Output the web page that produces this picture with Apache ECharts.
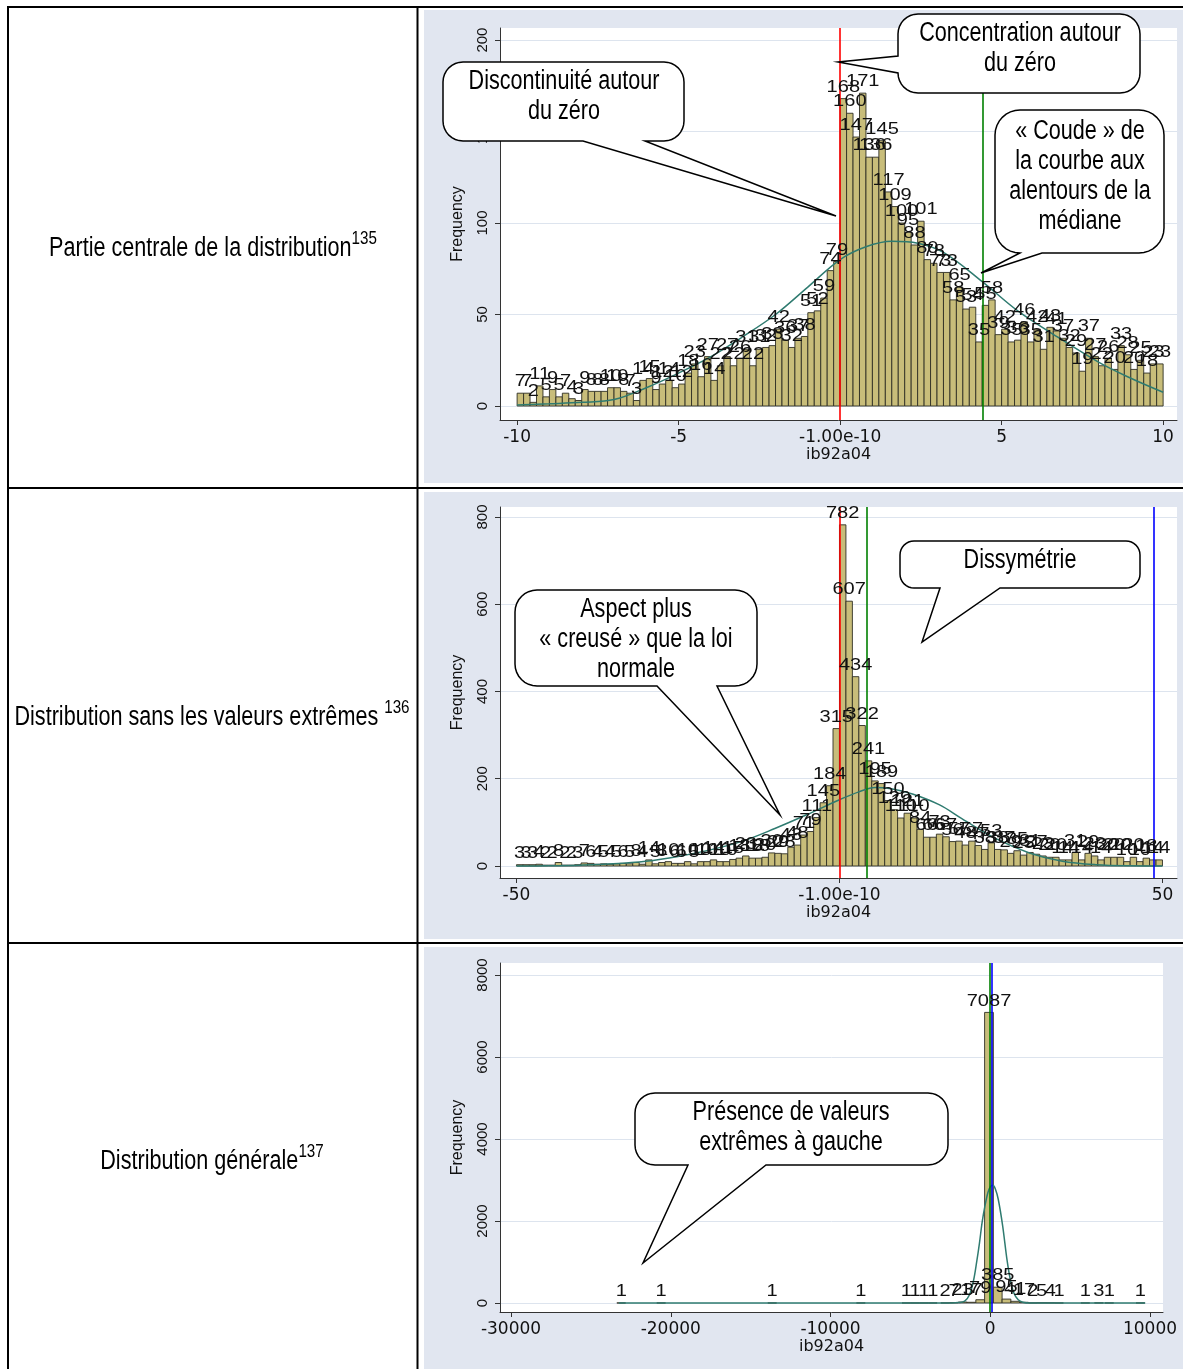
<!DOCTYPE html>
<html><head><meta charset="utf-8">
<script src="https://cdn.jsdelivr.net/npm/echarts@6/dist/echarts.min.js"></script>
<style>html,body{margin:0;padding:0;background:#fff}#c{width:1183px;height:1369px}</style>
</head><body><div id="c"></div>
<script>
// ---------------- DATA ----------------
// Panel 1 : partie centrale (bins of 0.2 from -10 to 10)
const p1BinStart = -10, p1BinWidth = 0.2;
const p1Counts = [7,7,2,11,5,9,5,7,4,3, 9,8,8,8,10,10,8,7,3,14, 15,9,12,14,10,12,18,23,16,27,
  14,22,27,22,26,31,22,31,32,33, 42,36,32,37,38,51,52,59,74,79,
  168,160,147,171,136,136,145,117,109,100, 95,88,101,80,78,73,73,58,65,53,
  54,35,55,58,39,42,35,36,46,35, 42,31,43,41,37,32,29,19,37,27, 22,26,20,33,28,20,25,18,23,23];
const p1CurveX = [-10,-9,-8,-7,-6,-5,-4,-3,-2,-1,0,0.8,1.6,2.4,3.2,4.4,5.5,6.8,8,8.9,10];
const p1CurveY = [0.5,1.2,2,3.5,10,18,27,38,50,65,80,87,90,89,84,68,52,37,24,16,7.5];
const p1VLines = [0, 4.43];
const p1XTicks = [-10,-5,0,5,10];
const p1YTicks = [0,50,100,150,200];

// Panel 2 : sans valeurs extrêmes (bins of 1 from -50 to 50)
const p2BinStart = -50, p2BinWidth = 1;
const p2Counts = [3,3,3,4,2,2,8,2,2,3, 7,6,4,5,4,5,6,5,8,4, 14,5,8,10,6,6,10,5,10,10,
  14,10,10,15,18,23,18,18,20,30, 29,28,43,48,71,79,111,145,184,315,
  782,607,434,322,241,195,189,150,129,110, 121,110,84,66,66,73,67,56,57,48,
  57,47,38,53,38,37,29,35,25,31, 27,23,20,20,14,14,31,14,29,23, 14,20,20,20,10,20,10,18,14,14];
const p2CurveX = [-50,-45,-40,-35,-30,-25,-20,-15,-10,-5,0,3,5.5,8,11.3,15.5,19,24.3,29.4,34.5,39.7,45,50];
const p2CurveY = [0,0.5,2,5,11,22,37,57,86,118,152,170,180,177,165,140,108,62,30,11,3,0.5,0.1];
const p2VLines = [0, 4.3, 48.6];
const p2XTicks = [-50,0,50];
const p2YTicks = [0,200,400,600,800];

// Panel 3 : distribution générale (non-empty bins, width ~548)
const p3BinWidth = 548;
const p3Centers = [-23100,-20600,-13650,-8100,-5250,-4700,-4150,-3600,-2820,-2272,-1724,-1176,-628,-80,468,1016,1564,2112,2660,3208,3756,4304,5950,6800,7450,9400];
const p3Counts  = [1,1,1,1,1,1,1,1,2,7,23,17,79,7087,385,95,41,17,2,5,4,1,1,3,1,1];
const p3CurveX = [-23250,-2400,-2000,-1600,-1300,-1040,-850,-680,-500,-340,-150,0,160,320,500,770,1050,1250,1470,1750,2040,2500,9700];
const p3CurveY = [0,0,10,45,200,560,1000,1450,1990,2350,2690,2830,2870,2780,2530,1900,1050,580,250,80,20,0,0];
const p3VLines = [90, 0];
const p3XTicks = [-30000,-20000,-10000,0,10000];
const p3YTicks = [0,2000,4000,6000,8000];

const zeroLabel = '-1.00e-10';
const xTitle = 'ib92a04', yTitle = 'Frequency';

// ---------------- STYLE ----------------
const BAR_FILL = '#c8bd7a', BAR_STROKE = '#2f2f24', CURVE = '#2f7b70';
const AX = '#333', TXT = '#111';
const DOC_FONT = '"Liberation Sans", Arial, sans-serif';

function binData(start, w, counts){ return counts.map((c,i)=>[start+i*w, start+(i+1)*w, c]); }
const p1Data = binData(p1BinStart, p1BinWidth, p1Counts);
const p2Data = binData(p2BinStart, p2BinWidth, p2Counts);
const p3Data = p3Centers.map((c,i)=>[c-p3BinWidth/2, c+p3BinWidth/2, p3Counts[i]]);

function xAxisCfg(gi, min, max, ticks, zeroText){
  return {type:'value', gridIndex:gi, min, max, name:xTitle, nameLocation:'middle', nameGap:25,
    nameTextStyle:{fontFamily:'DejaVu Sans', fontSize:16, color:TXT},
    axisLine:{show:true, onZero:false, lineStyle:{color:AX, width:1}},
    axisTick:{show:true, length:5, customValues:ticks, lineStyle:{color:AX}},
    axisLabel:{customValues:ticks, margin:9, fontFamily:'DejaVu Sans', fontSize:17, color:TXT,
      formatter: v => (v===0 && zeroText) ? zeroText : String(v)},
    splitLine:{show:false}};
}
function yAxisCfg(gi, min, max, ticks){
  return {type:'value', gridIndex:gi, min, max, name:yTitle, nameLocation:'middle', nameGap:34,
    nameTextStyle:{fontFamily:'Liberation Sans', fontSize:16, color:TXT},
    axisLine:{show:true, onZero:false, lineStyle:{color:AX, width:1}},
    axisTick:{show:true, length:5, customValues:ticks, lineStyle:{color:AX}},
    axisLabel:{customValues:ticks, rotate:90, margin:10, fontFamily:'Liberation Sans', fontSize:15, color:TXT,
      formatter: v => String(v)},
    splitLine:{show:true, lineStyle:{color:'#dde4ee', width:1}}};
}
function barSeries(gi, data){
  return {type:'custom', xAxisIndex:gi, yAxisIndex:gi, data, encode:{x:[0,1], y:2}, z:2,
    renderItem:(params, api)=>{
      const a = api.coord([api.value(0), api.value(2)]);
      const b = api.coord([api.value(1), 0]);
      return {type:'rect', shape:{x:a[0], y:a[1], width:b[0]-a[0], height:b[1]-a[1]},
        style:{fill:BAR_FILL, stroke:BAR_STROKE, lineWidth:0.9}};
    }};
}
function labelSeries(gi, data){
  return {type:'custom', xAxisIndex:gi, yAxisIndex:gi, data, encode:{x:[0,1], y:2}, z:6,
    renderItem:(params, api)=>{
      const a = api.coord([api.value(0), api.value(2)]);
      const b = api.coord([api.value(1), 0]);
      return {type:'text', x:(a[0]+b[0])/2, y:a[1]-3, scaleX:1.18,
        style:{text:String(api.value(2)), x:0, y:0,
        align:'center', verticalAlign:'bottom', font:'17px "Liberation Sans"', fill:'#111'}};
    }};
}
function curveSeries(gi, X, Y){
  return {type:'line', xAxisIndex:gi, yAxisIndex:gi, data:X.map((x,i)=>[x,Y[i]]), smooth:0.35,
    showSymbol:false, symbol:'none', lineStyle:{color:CURVE, width:1.5}, z:4};
}
function vlineSeries(gi, vals, colors){
  return {type:'line', xAxisIndex:gi, yAxisIndex:gi, data:[], z:5,
    markLine:{silent:true, symbol:['none','none'], label:{show:false},
      data: vals.map((v,i)=>({xAxis:v, lineStyle:{color:colors[i], width:1.6, type:'solid'}}))}};
}

// speech bubble as polygon (rounded rect + tail)
function arcPts(cx, cy, r, a0, a1){
  const pts = [];
  for(let k=0;k<=8;k++){ const a = a0 + (a1-a0)*k/8; pts.push([cx + r*Math.cos(a), cy + r*Math.sin(a)]); }
  return pts;
}
function bubble(x,y,w,h,r,side,t1,t2,tip){
  const P = Math.PI;
  let pts = [];
  pts = pts.concat(arcPts(x+w-r, y+r, r, -P/2, 0));
  pts = pts.concat(arcPts(x+w-r, y+h-r, r, 0, P/2));
  if(side==='bottom') pts.push([t2,y+h],[tip[0],tip[1]],[t1,y+h]);
  pts = pts.concat(arcPts(x+r, y+h-r, r, P/2, P));
  if(side==='left') pts.push([x,t2],[tip[0],tip[1]],[x,t1]);
  pts = pts.concat(arcPts(x+r, y+r, r, P, 1.5*P));
  return {type:'polygon', shape:{points:pts}, style:{fill:'#fff', stroke:'#000', lineWidth:1.5}, z:50};
}
function bubbleText(cx, cy, text){
  return {type:'text', x:cx, y:cy, scaleX:0.8, z:51,
    style:{text, font:'27px '+DOC_FONT, fill:'#000', align:'center', verticalAlign:'middle', lineHeight:30}};
}
const mctx = document.createElement('canvas').getContext('2d');
function measure(t, font){ mctx.font = font; return mctx.measureText(t).width; }
function supText(cx, cy, main, sup){
  const f1 = '27px "Liberation Sans"', f2 = '19px "Liberation Sans"', sx = 0.8;
  const wm = measure(main, f1), ws = measure(sup, f2);
  const left = cx - (wm+ws)*sx/2;
  return [
    {type:'text', x:left, y:cy, scaleX:sx, z:51, style:{text:main, font:f1, fill:'#000', align:'left', verticalAlign:'middle'}},
    {type:'text', x:left+wm*sx, y:cy-10, scaleX:sx, z:51, style:{text:sup, font:f2, fill:'#000', align:'left', verticalAlign:'middle'}}
  ];
}

const graphics = [
  {type:'rect', shape:{x:424,y:10,width:759,height:473}, style:{fill:'#e1e6f0'}, z:-10},
  {type:'rect', shape:{x:424,y:492,width:759,height:447}, style:{fill:'#e1e6f0'}, z:-10},
  {type:'rect', shape:{x:424,y:947,width:759,height:422}, style:{fill:'#e1e6f0'}, z:-10},
  {type:'rect', shape:{x:7,y:6,width:1176,height:2}, style:{fill:'#000'}, z:40},
  {type:'rect', shape:{x:7,y:6,width:2,height:1363}, style:{fill:'#000'}, z:40},
  {type:'rect', shape:{x:416.5,y:6,width:2,height:1363}, style:{fill:'#000'}, z:40},
  {type:'rect', shape:{x:7,y:487,width:1176,height:2}, style:{fill:'#000'}, z:40},
  {type:'rect', shape:{x:7,y:942,width:1176,height:2}, style:{fill:'#000'}, z:40},
  ...supText(213, 249, 'Partie centrale de la distribution', '135'),
  ...supText(212, 718, 'Distribution sans les valeurs extrêmes ', '136'),
  ...supText(212, 1162, 'Distribution générale', '137'),
  bubble(443,62,241,79,20,'bottom',583,645,[836,216]),
  bubbleText(564,97,'Discontinuité autour\ndu zéro'),
  bubble(898,14,242,79,20,'left',56,73,[838,62]),
  bubbleText(1020,49,'Concentration autour\ndu zéro'),
  bubble(995,110,169,143,25,'bottom',1020,1042,[981,273]),
  bubbleText(1080,177,'« Coude » de\nla courbe aux\nalentours de la\nmédiane'),
  bubble(515,590,242,96,22,'bottom',657,717,[780,815]),
  bubbleText(636,640,'Aspect plus\n« creusé » que la loi\nnormale'),
  bubble(900,541,240,47,14,'bottom',940,1000,[922,642]),
  bubbleText(1020,561,'Dissymétrie'),
  bubble(635,1093,313,72,20,'bottom',688,766,[643,1263]),
  bubbleText(791,1128,'Présence de valeurs\nextrêmes à gauche')
];

const chart = echarts.init(document.getElementById('c'), null, {renderer:'canvas', width:1183, height:1369});
chart.setOption({
  animation:false,
  backgroundColor:'#fff',
  grid:[
    {left:500, top:28, width:677, height:392, show:true, backgroundColor:'#fff', borderWidth:0},
    {left:500, top:507, width:677, height:371, show:true, backgroundColor:'#fff', borderWidth:0},
    {left:500, top:963, width:663, height:349, show:true, backgroundColor:'#fff', borderWidth:0}
  ],
  xAxis:[
    xAxisCfg(0, -10.53, 10.43, p1XTicks, zeroLabel),
    xAxisCfg(1, -52.55, 52.25, p2XTicks, zeroLabel),
    xAxisCfg(2, -30689, 10814, p3XTicks, null)
  ],
  yAxis:[
    yAxisCfg(0, -7.65, 206.6, p1YTicks),
    yAxisCfg(1, -27.5, 822.9, p2YTicks),
    yAxisCfg(2, -220, 8292, p3YTicks)
  ],
  graphic:{elements:graphics},
  series:[
    barSeries(0, p1Data), curveSeries(0, p1CurveX, p1CurveY), vlineSeries(0, p1VLines, ['#ff0000','#008000']), labelSeries(0, p1Data),
    barSeries(1, p2Data), curveSeries(1, p2CurveX, p2CurveY), vlineSeries(1, p2VLines, ['#ff0000','#008000','#0000ff']), labelSeries(1, p2Data),
    barSeries(2, p3Data), curveSeries(2, p3CurveX, p3CurveY), vlineSeries(2, p3VLines, ['#0000ff','#008000']), labelSeries(2, p3Data)
  ]
});
</script></body></html>
